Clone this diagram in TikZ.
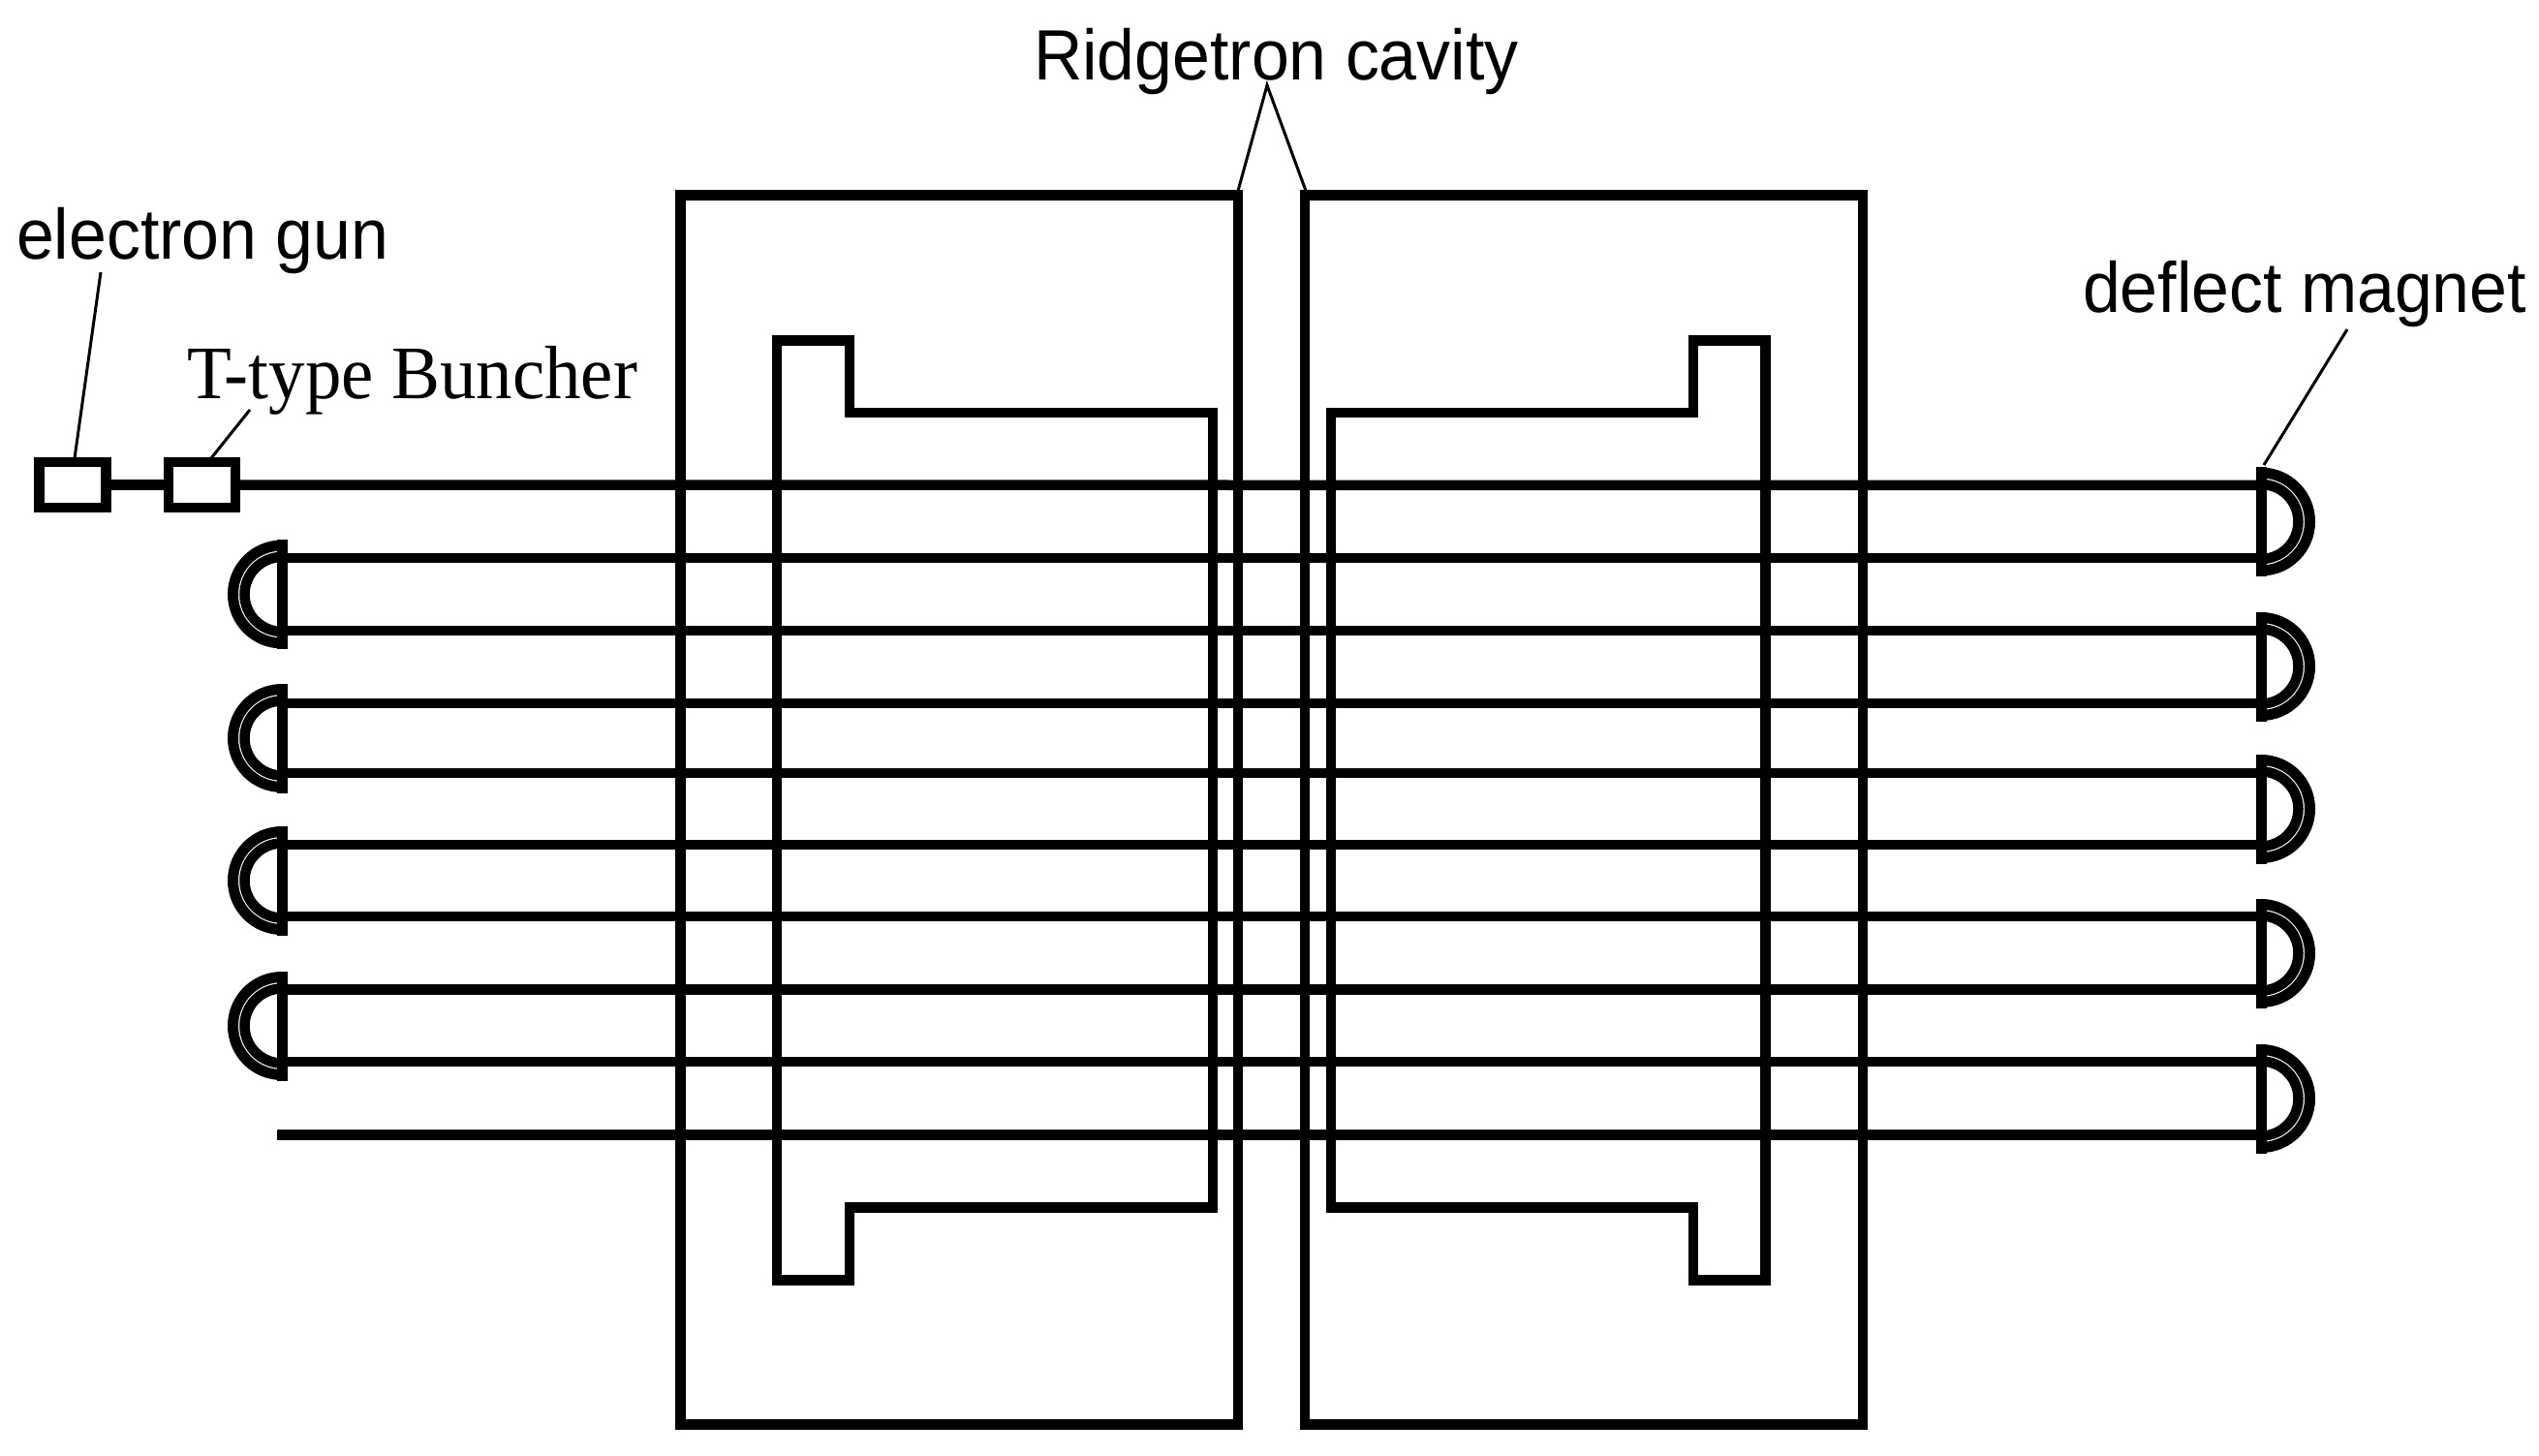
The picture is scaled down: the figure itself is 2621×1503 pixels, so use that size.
\documentclass[tikz,border=0pt]{standalone}
\usepackage{fontspec}
\setmainfont{Liberation Sans}
\newfontfamily\serifface{Liberation Serif}
\tikzset{
  heavy/.style={line width=10.5pt,line cap=butt,line join=miter},
  leader/.style={line width=3pt},
  unitbox/.style={draw,heavy,rectangle,minimum width=69pt,minimum height=47pt,inner sep=0pt,outer sep=0pt},
  sanslabel/.style={anchor=base west,inner sep=0pt,outer sep=0pt,xscale=.95,transform shape,font=\fontsize{73.5}{80}\selectfont},
  seriflabel/.style={anchor=base west,inner sep=0pt,outer sep=0pt,xscale=.96,transform shape,font=\fontsize{78}{84}\serifface\selectfont},
  magnet/.pic={
    \draw[line width=11pt] (0,-50.5) arc[start angle=-90,end angle=90,radius=50.5];
    \draw[line width=10.5pt] (0,-38.5) arc[start angle=-90,end angle=90,radius=38.5];
    \draw[line width=11pt] (0,56.5) -- (0,-56.5);
  }
}
\begin{document}
\begin{tikzpicture}[x=1pt,y=-1pt]
\useasboundingbox (0,0) rectangle (2621,1503);
% labels
\node[sanslabel] (lgun) at (17,268) {electron gun};
\node[seriflabel] (lbun) at (193,412) {T-type Buncher};
\node[sanslabel] (lmag) at (2150,323) {deflect magnet};
\node[sanslabel] (lcav) at (1067,83) {Ridgetron cavity};
% source units
\node[unitbox] (gun) at (75,500.5) {};
\node[unitbox] (bun) at (208.5,500.5) {};
% cavities
\draw[heavy] (702.5,201.7) -- (1278,201.7) -- (1278,1470.7) -- (702.5,1470.7) -- cycle;
\draw[heavy] (1347,201.7) -- (1923,201.7) -- (1923,1470.7) -- (1347,1470.7) -- cycle;
% ridges
\draw[heavy] (802,351.7) -- (877,351.7) -- (877,426) -- (1252,426) -- (1252,1246.5) -- (877,1246.5) -- (877,1321.5) -- (802,1321.5) -- cycle;
\draw[heavy] (1822.5,351.7) -- (1748,351.7) -- (1748,426) -- (1374,426) -- (1374,1246.5) -- (1748,1246.5) -- (1748,1321.5) -- (1822.5,1321.5) -- cycle;
% beam
\coordinate (R1) at (2334,501);
\coordinate (R2) at (2334,576);
\coordinate (R3) at (2334,651);
\coordinate (R4) at (2334,726);
\coordinate (R5) at (2334,798);
\coordinate (R6) at (2334,872);
\coordinate (R7) at (2334,946);
\coordinate (R8) at (2334,1021.5);
\coordinate (R9) at (2334,1096);
\coordinate (R10) at (2334,1171.5);
\coordinate (L2) at (291,576);
\coordinate (L3) at (291,651);
\coordinate (L4) at (291,726);
\coordinate (L5) at (291,798);
\coordinate (L6) at (291,872);
\coordinate (L7) at (291,946);
\coordinate (L8) at (291,1021.5);
\coordinate (L9) at (291,1096);
\coordinate (L10) at (286,1171.5);
\draw[heavy] (gun) -- (bun);
\draw[heavy] (bun) -- (R1);
\foreach \i in {2,...,10} \draw[heavy] (L\i) -- (R\i);
% magnets
\foreach \y in {538.5,688,835,984,1134} \pic at (2334,\y) {magnet};
\foreach \y in {613.5,762,909,1059} \pic[xscale=-1] at (291,\y) {magnet};
% leaders
\coordinate (gunTop) at (77,473);
\coordinate (bunTop) at (218,473);
\coordinate (magTop) at (2337,480);
\coordinate (cavApex) at (1308,88);
\draw[leader] (104,281) -- (gunTop);
\draw[leader] (258,423) -- (bunTop);
\draw[leader] (2423,340) -- (magTop);
\draw[leader] (1278,197) -- (cavApex) -- (1348,197);
\end{tikzpicture}
\end{document}
